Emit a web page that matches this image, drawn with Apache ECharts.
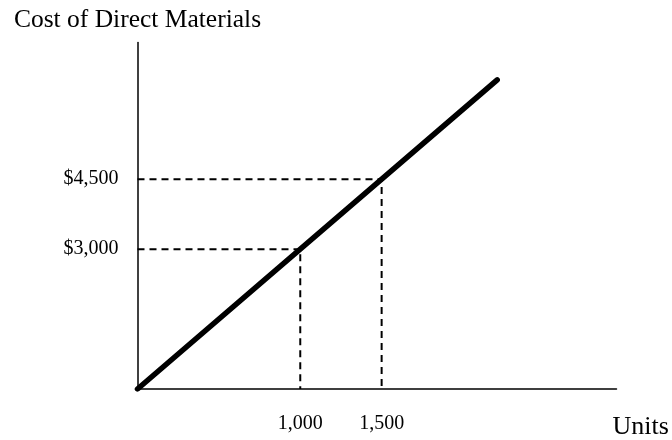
<!DOCTYPE html>
<html>
<head>
<meta charset="utf-8">
<script src="https://cdn.jsdelivr.net/npm/echarts@6/dist/echarts.min.js"></script>
<style>
  html, body { margin: 0; padding: 0; background: #fff; }
  #chart { width: 672px; height: 440px; }
</style>
</head>
<body>
<div id="chart"></div>
<script>
// Units produced and the total cost of direct materials
const costLine = [[0, 0], [2210, 6630]];
const unitTicks = [1000, 1500];
const costTicks = [3000, 4500];
// Reference points
const guidePoints = [[1000, 3000], [1500, 4500]];

const fmt = v => v.toLocaleString('en-US');
const FONT = '"Liberation Serif", "Times New Roman", serif';

const guideSeries = guidePoints.map(p => ({
  type: 'line',
  data: [[0, p[1]], [p[0], p[1]], [p[0], 0]],
  symbol: 'none',
  silent: true,
  lineStyle: { color: '#000', width: 2, type: [7, 5] },
  z: 2
}));

const chart = echarts.init(document.getElementById('chart'), null, { renderer: 'canvas' });
chart.setOption({
  animation: false,
  backgroundColor: '#fff',
  grid: { left: 137.5, top: 42.5, width: 479, height: 348 },
  xAxis: {
    type: 'value',
    min: 0,
    max: 2943,
    name: 'Units',
    nameLocation: 'end',
    nameGap: -4,
    nameTextStyle: {
      fontFamily: FONT, fontSize: 26, color: '#000',
      align: 'left', verticalAlign: 'top', padding: [25, 0, 0, 0]
    },
    axisLine: { show: true, onZero: false, lineStyle: { color: '#000', width: 1.5 } },
    axisTick: { show: false },
    splitLine: { show: false },
    axisLabel: {
      customValues: unitTicks,
      formatter: v => fmt(v),
      fontFamily: FONT, fontSize: 20, color: '#000', margin: 25
    }
  },
  yAxis: {
    type: 'value',
    min: 0,
    max: 7432,
    name: 'Cost of Direct Materials',
    nameLocation: 'end',
    nameGap: 9,
    nameTextStyle: { fontFamily: FONT, fontSize: 25.5, color: '#000' },
    axisLine: { show: true, onZero: false, lineStyle: { color: '#000', width: 1.5 } },
    axisTick: { show: false },
    splitLine: { show: false },
    axisLabel: {
      customValues: costTicks,
      formatter: v => '$' + fmt(v),
      fontFamily: FONT, fontSize: 20, color: '#000', margin: 19
    }
  },
  series: [
    ...guideSeries,
    {
      type: 'line',
      data: costLine,
      symbol: 'none',
      silent: true,
      lineStyle: { color: '#000', width: 5.5, cap: 'round' },
      z: 3
    }
  ]
});
</script>
</body>
</html>
